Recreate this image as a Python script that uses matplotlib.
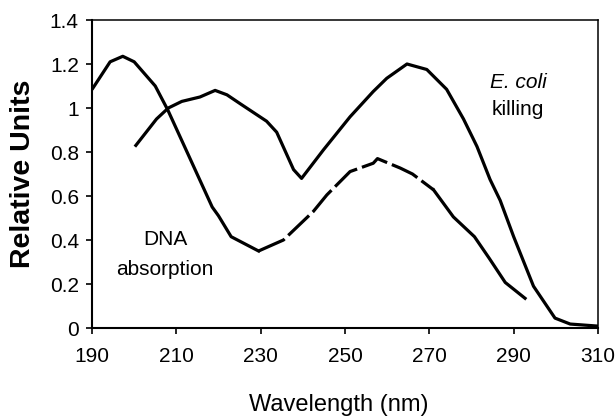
import matplotlib
matplotlib.use("Agg")
import matplotlib.pyplot as plt

plt.rcParams['font.family'] = ['Liberation Sans', 'DejaVu Sans']

# E. coli killing action spectrum
ecoli_wl = [200.4, 205.3, 208.1, 211.3, 215.6, 219.2, 222.0, 225.1, 231.4, 233.8,
            237.8, 239.7, 244.9, 251.2, 256.7, 259.9, 264.7, 269.4, 274.1, 278.1,
            281.3, 284.4, 286.8, 290.0, 294.7, 299.8, 303.4, 309.7]
ecoli_val = [0.83, 0.95, 1.00, 1.03, 1.05, 1.08, 1.06, 1.02, 0.94, 0.89,
             0.72, 0.68, 0.81, 0.96, 1.075, 1.135, 1.20, 1.175, 1.085, 0.95,
             0.825, 0.675, 0.58, 0.415, 0.19, 0.045, 0.018, 0.009]

# DNA absorption spectrum
dna_wl = [190.2, 194.3, 197.3, 200.0, 205.0, 208.0, 212.3, 218.5, 220.0, 223.0,
          229.5, 235.4, 242.5, 245.7, 251.2, 256.7, 257.7, 263.1, 266.0, 271.0,
          275.7, 280.7, 284.2, 288.0, 292.7]
dna_val = [1.09, 1.21, 1.235, 1.21, 1.10, 0.99, 0.81, 0.55, 0.51, 0.415,
           0.35, 0.40, 0.53, 0.605, 0.711, 0.749, 0.77, 0.727, 0.70, 0.628,
           0.505, 0.415, 0.317, 0.207, 0.135]

x_ticks = [190, 210, 230, 250, 270, 290, 310]
y_ticks = [0, 0.2, 0.4, 0.6, 0.8, 1.0, 1.2, 1.4]
y_tick_labels = ['0', '0.2', '0.4', '0.6', '0.8', '1', '1.2', '1.4']

fig = plt.figure(figsize=(6.15, 4.18), dpi=100)
ax = fig.add_axes([92/615, 90/418, 506/615, 308/418])

lw = 2.3
ax.plot(ecoli_wl, ecoli_val, color='black', lw=lw, solid_joinstyle='round')

# DNA: solid, then dashed section, then solid again
i_dash_start = dna_wl.index(229.5)
i_dash_end = dna_wl.index(271.0)
ax.plot(dna_wl[:i_dash_start + 1], dna_val[:i_dash_start + 1], color='black', lw=lw,
        solid_joinstyle='round')
ax.plot(dna_wl[i_dash_start:i_dash_end + 1], dna_val[i_dash_start:i_dash_end + 1],
        color='black', lw=lw, dashes=(9, 1.6), dash_capstyle='butt')
ax.plot(dna_wl[i_dash_end:], dna_val[i_dash_end:], color='black', lw=lw,
        solid_joinstyle='round')

ax.set_xlim(190, 310)
ax.set_ylim(0, 1.4)
ax.set_xticks(x_ticks)
ax.set_yticks(y_ticks)
ax.set_yticklabels(y_tick_labels)

ax.tick_params(axis='both', direction='out', length=4.5, width=1.2,
               labelsize=15, colors='black')
ax.tick_params(axis='x', pad=9)
ax.tick_params(axis='y', pad=5)
ax.tick_params(top=False, right=False)

for side in ['left', 'bottom']:
    ax.spines[side].set_linewidth(1.5)
for side in ['top', 'right']:
    ax.spines[side].set_linewidth(1.1)

ax.set_ylabel('Relative Units', fontsize=20.5, fontweight='bold', labelpad=10)
ax.set_xlabel('Wavelength (nm)', fontsize=17, labelpad=19)
ax.xaxis.set_label_coords(0.488, -0.215)

ax.text(207.3, 0.378, 'DNA', ha='center', va='baseline', fontsize=15)
ax.text(207.3, 0.241, 'absorption', ha='center', va='baseline', fontsize=15)
ax.text(291.1, 1.092, 'E. coli', ha='center', va='baseline', fontsize=15,
        style='italic')
ax.text(291.1, 0.969, 'killing', ha='center', va='baseline', fontsize=15)

fig.savefig('out.png', dpi=100)
